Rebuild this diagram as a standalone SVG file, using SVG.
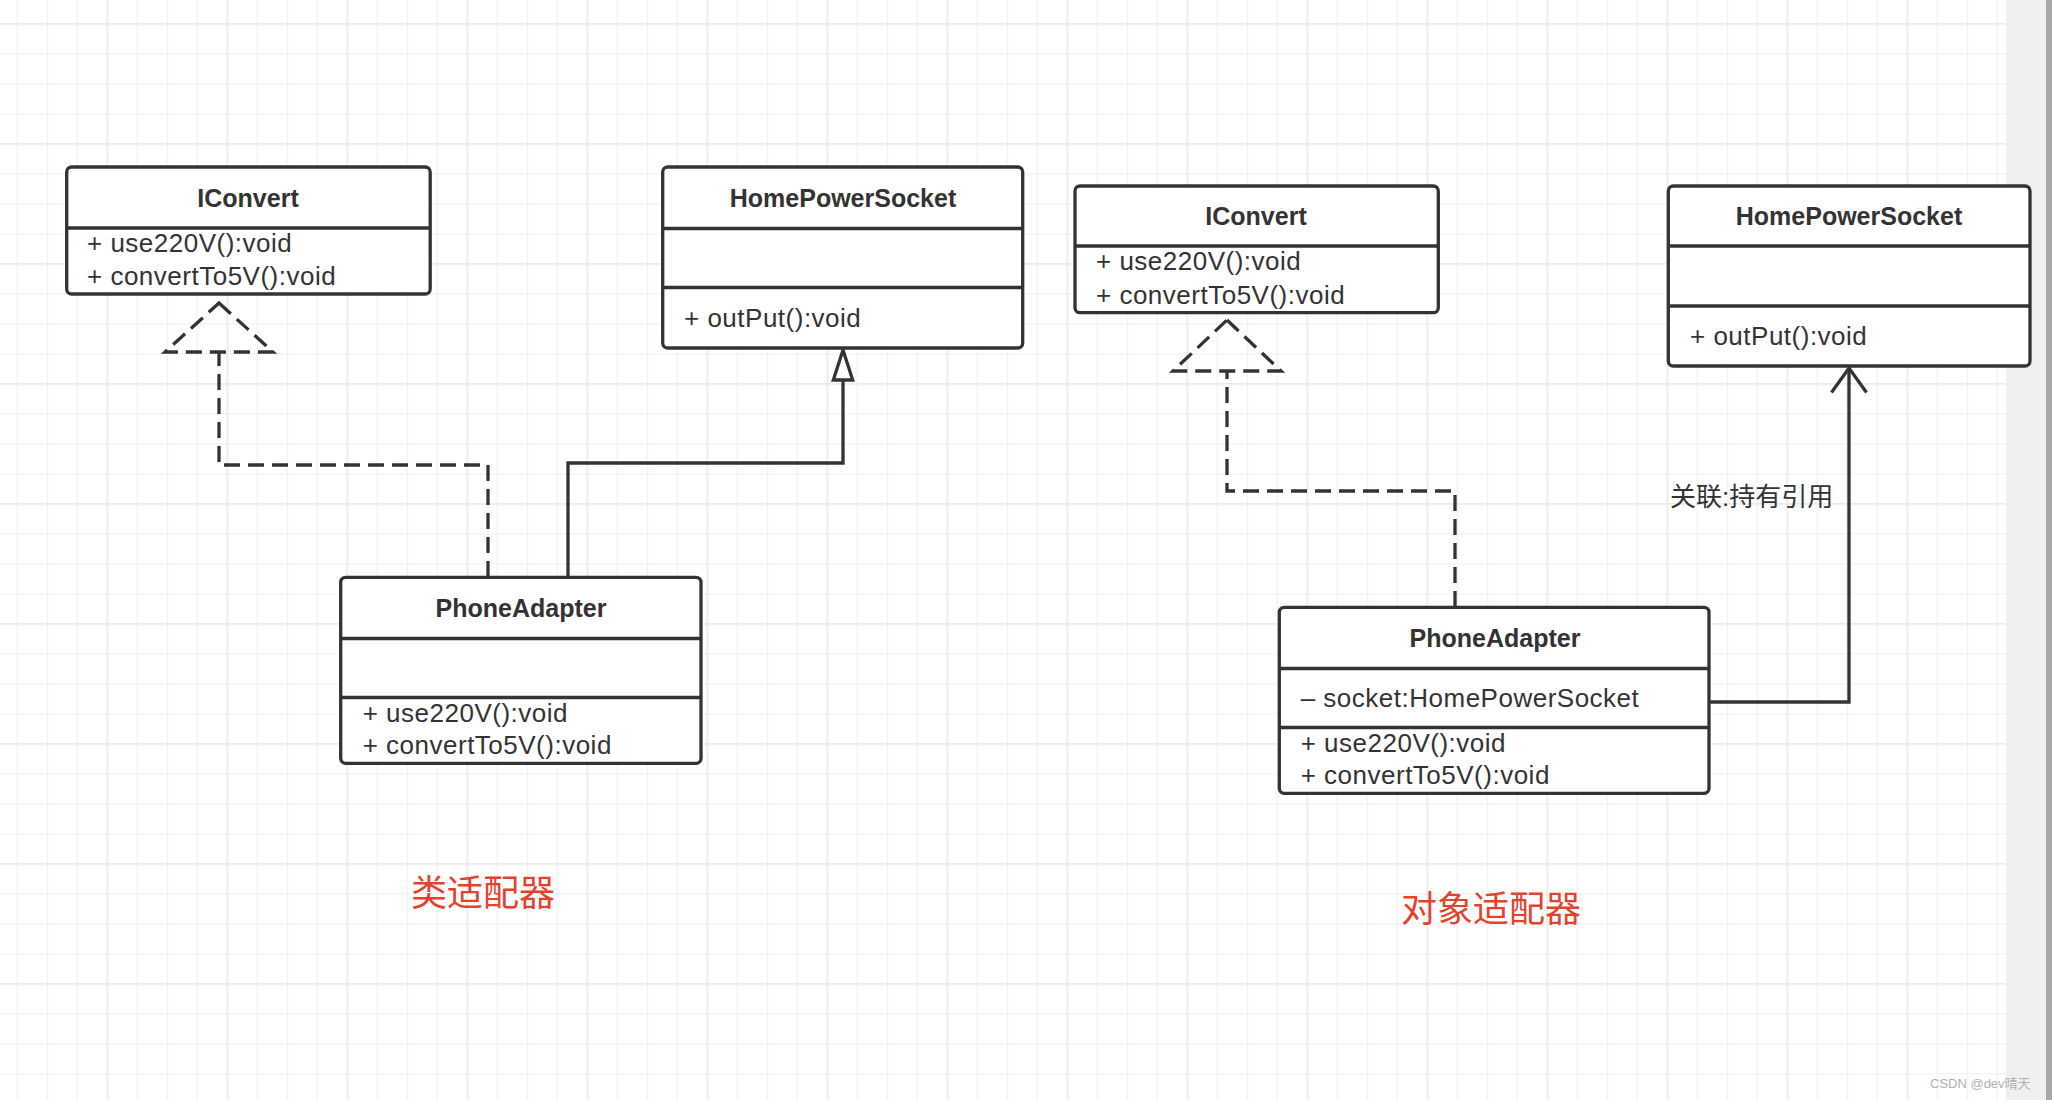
<svg xmlns="http://www.w3.org/2000/svg" width="2052" height="1100" viewBox="0 0 2052 1100">
<style>
.box{fill:#fff;stroke:#333;stroke-width:3.3}
.div{stroke:#333;stroke-width:3.3}
.title{font-family:"Liberation Sans","Noto Sans CJK SC",sans-serif;font-size:25px;font-weight:bold;fill:#333;text-anchor:middle}
.mem{font-family:"Liberation Sans","Noto Sans CJK SC",sans-serif;font-size:26px;letter-spacing:0.5px;fill:#333}
.dash{fill:none;stroke:#333;stroke-width:3.3;stroke-dasharray:16 8}
.solid{fill:none;stroke:#333;stroke-width:3.3}
.red{font-family:"Liberation Sans","Noto Sans CJK SC",sans-serif;font-size:36px;fill:#e5412d}
.lbl{font-family:"Liberation Sans","Noto Sans CJK SC",sans-serif;font-size:26px;fill:#333}
</style>
<defs>
<pattern id="minor" width="30" height="30" patternUnits="userSpaceOnUse" x="16.7" y="23.3">
<path d="M0,0H30M0,0V30" fill="none" stroke="#f1f1f1" stroke-width="2.5"/>
</pattern>
<pattern id="major" width="120" height="120" patternUnits="userSpaceOnUse" x="106.7" y="23.3">
<path d="M0,0H120M0,0V120" fill="none" stroke="#e8e8e8" stroke-width="2.5"/>
</pattern>
</defs>
<rect x="0" y="0" width="2052" height="1100" fill="#fff"/>
<rect x="0" y="0" width="2006" height="1100" fill="url(#minor)"/>
<rect x="0" y="0" width="2006" height="1100" fill="url(#major)"/>
<rect x="2006" y="0" width="40" height="1100" fill="#f0f0f0"/>
<rect x="2046" y="0" width="6" height="1100" fill="#a8a8a8"/>

<g id="connectors">
<path class="dash" d="M488,577 V465 H219 V352"/>
<path class="dash" d="M219,303 L273,352 H165 Z"/>
<path class="solid" d="M568,577 V463 H843 V380"/>
<path d="M843,350 L852.7,380 H833.3 Z" fill="#fff" stroke="#333" stroke-width="3.3" stroke-linejoin="miter"/>
<path class="dash" d="M1455,607 V491 H1227 V371"/>
<path class="dash" d="M1227,320 L1281,371 H1173 Z"/>
<path class="solid" d="M1709,702 H1849 V368"/>
<path class="solid" d="M1831.5,392.5 L1849,368 L1866.5,392.5"/>
<text class="lbl" x="1670" y="506">关联:持有引用</text>
</g>

<g id="IConvert1">
<rect class="box" x="66.7" y="167" width="363.5" height="127" rx="5"/>
<line class="div" x1="66.7" y1="228" x2="430.2" y2="228"/>
<text class="title" x="248" y="207">IConvert</text>
<text class="mem" x="87" y="252">+ use220V():void</text>
<text class="mem" x="87" y="285">+ convertTo5V():void</text>
</g>

<g id="HomePowerSocket1">
<rect class="box" x="662.7" y="167" width="360" height="181" rx="5"/>
<line class="div" x1="662.7" y1="228.5" x2="1022.7" y2="228.5"/>
<line class="div" x1="662.7" y1="287.5" x2="1022.7" y2="287.5"/>
<text class="title" x="843" y="207">HomePowerSocket</text>
<text class="mem" x="684" y="327">+ outPut():void</text>
</g>

<g id="PhoneAdapter1">
<rect class="box" x="340.7" y="577.3" width="360.3" height="186" rx="5"/>
<line class="div" x1="340.7" y1="638.5" x2="701" y2="638.5"/>
<line class="div" x1="340.7" y1="697.5" x2="701" y2="697.5"/>
<text class="title" x="521" y="617">PhoneAdapter</text>
<text class="mem" x="362.7" y="722">+ use220V():void</text>
<text class="mem" x="362.7" y="753.5">+ convertTo5V():void</text>
</g>

<g id="IConvert2">
<rect class="box" x="1075" y="186" width="363.3" height="126.7" rx="5"/>
<line class="div" x1="1075" y1="246" x2="1438.3" y2="246"/>
<text class="title" x="1256" y="225">IConvert</text>
<text class="mem" x="1096" y="270">+ use220V():void</text>
<text class="mem" x="1096" y="303.5">+ convertTo5V():void</text>
</g>

<g id="HomePowerSocket2">
<rect class="box" x="1668.3" y="186" width="361.7" height="180" rx="5"/>
<line class="div" x1="1668.3" y1="246" x2="2030" y2="246"/>
<line class="div" x1="1668.3" y1="306" x2="2030" y2="306"/>
<text class="title" x="1849" y="225">HomePowerSocket</text>
<text class="mem" x="1690" y="345">+ outPut():void</text>
</g>

<g id="PhoneAdapter2">
<rect class="box" x="1279.3" y="607.3" width="429.7" height="186" rx="5"/>
<line class="div" x1="1279.3" y1="668.5" x2="1709" y2="668.5"/>
<line class="div" x1="1279.3" y1="727.5" x2="1709" y2="727.5"/>
<text class="title" x="1495" y="647">PhoneAdapter</text>
<text class="mem" x="1300.7" y="707">– socket:HomePowerSocket</text>
<text class="mem" x="1300.7" y="752">+ use220V():void</text>
<text class="mem" x="1300.7" y="783.5">+ convertTo5V():void</text>
</g>

<g id="labels">
<text class="red" x="411" y="906">类适配器</text>
<text class="red" x="1401" y="922">对象适配器</text>
<text x="1930" y="1088" font-family="Liberation Sans,Noto Sans CJK SC,sans-serif" font-size="13" fill="#b0b0b0">CSDN @dev晴天</text>
</g>
</svg>
